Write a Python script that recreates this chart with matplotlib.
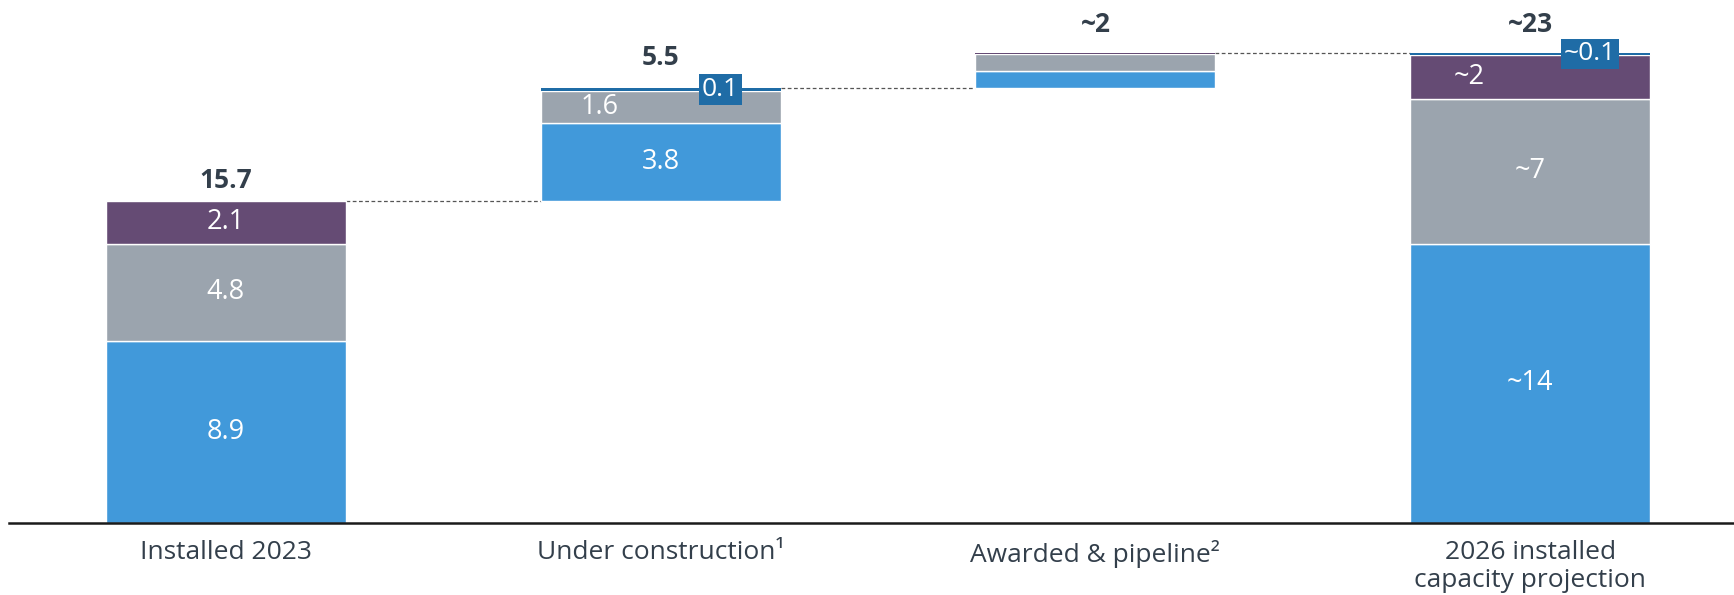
import matplotlib
matplotlib.use("Agg")
import matplotlib.pyplot as plt
import numpy as np

# ---- data ----
categories = ["Installed 2023", "Under construction\u00b9", "Awarded & pipeline\u00b2",
              "2026 installed\ncapacity projection"]
blue = [8.9, 3.8, 0.88, 13.7]
gray = [4.8, 1.6, 0.80, 7.1]
purple = [2.1, 0.0, 0.05, 2.15]
darkblue = [0.0, 0.1, 0.0, 0.1]
is_total = [True, False, False, True]
total_labels = ["15.7", "5.5", "~2", "~23"]
blue_labels = ["8.9", "3.8", "", "~14"]
gray_labels = ["4.8", "1.6", "", "~7"]
purple_labels = ["2.1", "", "", "~2"]
darkblue_labels = ["", "0.1", "", "~0.1"]

# ---- style ----
C_BLUE = "#4199DA"
C_GRAY = "#9BA4AE"
C_PURPLE = "#654B74"
C_DBLUE = "#1F6CA6"
C_TEXT = "#333F4B"
FONT = ["Open Sans", "DejaVu Sans"]

plt.rcParams["font.family"] = FONT

fig = plt.figure(figsize=(17.34, 5.95), dpi=100)
ax = fig.add_axes([9 / 1734, 72 / 595, 1 - 9 / 1734, 523 / 595])

x = np.arange(len(categories))
width = 0.552

series = [(blue, C_BLUE, blue_labels), (gray, C_GRAY, gray_labels),
          (purple, C_PURPLE, purple_labels), (darkblue, C_DBLUE, darkblue_labels)]

# waterfall bases
bases = []
running = 0.0
for i in range(len(categories)):
    tot = blue[i] + gray[i] + purple[i] + darkblue[i]
    if is_total[i]:
        bases.append(0.0)
        running = tot
    else:
        bases.append(running)
        running += tot
tops = [bases[i] + blue[i] + gray[i] + purple[i] + darkblue[i] for i in range(len(categories))]

cur = list(bases)
seg_info = []
for vals, col, labs in series:
    for i, v in enumerate(vals):
        if v <= 0:
            continue
        lw = 1.0 if v > 0.5 else 0
        ax.bar(x[i], v, width, bottom=cur[i], color=col, edgecolor="white", linewidth=lw, zorder=2)
        seg_info.append((i, cur[i], v, col, labs[i]))
        cur[i] += v

# segment labels
for i, b, v, col, lab in seg_info:
    if not lab:
        continue
    if col == C_DBLUE:
        ax.text(x[i] + 0.138, b + v / 2, lab, ha="center", va="center", color="white",
                fontsize=19,
                bbox=dict(boxstyle="square,pad=0.1", facecolor=C_DBLUE, edgecolor="none"),
                zorder=4)
    else:
        off = 0.0
        if (i == 1 and col == C_GRAY) or (i == 3 and col == C_PURPLE):
            off = -0.14
        ax.text(x[i] + off, b + v / 2, lab, ha="center", va="center", color="white",
                fontsize=19.5, zorder=3)

# total labels
offs_px = [20, 31, 29, 28]
for i in range(len(categories)):
    ax.annotate(total_labels[i], (x[i], tops[i]), xytext=(0, offs_px[i] * 0.72),
                textcoords="offset points", ha="center", va="center",
                fontsize=19, fontweight="bold", color=C_TEXT)

# connectors
for i in range(len(categories) - 1):
    ax.plot([x[i] + width / 2, x[i + 1] - width / 2], [tops[i], tops[i]],
            color="#555555", linestyle=(0, (3, 2)), linewidth=0.9, zorder=1)

ax.set_xlim(-0.499, 3.469)
ax.set_ylim(0, 523 / 20.4)
for s in ["top", "right", "left"]:
    ax.spines[s].set_visible(False)
ax.spines["bottom"].set_color("#1a1a1a")
ax.spines["bottom"].set_linewidth(1.8)
ax.set_yticks([])
ax.set_xticks(x)
ax.set_xticklabels(categories, fontsize=19, color=C_TEXT, linespacing=1.2)
ax.tick_params(axis="x", length=0, pad=12)

fig.savefig("out.png", dpi=100)
